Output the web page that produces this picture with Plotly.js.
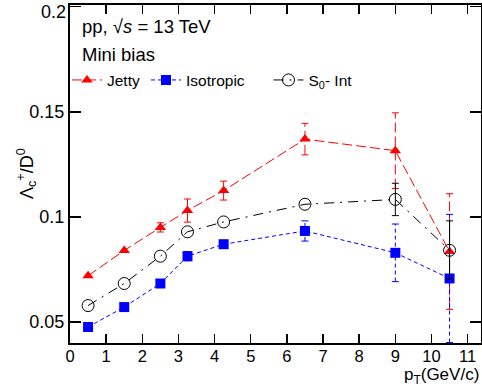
<!DOCTYPE html>
<html>
<head>
<meta charset="utf-8">
<script src="https://cdn.plot.ly/plotly-3.0.1.min.js"></script>
<style>html,body{margin:0;padding:0;background:#fff;}#chart{width:482px;height:392px;}</style>
</head>
<body>
<div id="chart"></div>
<script>
// ---- data ----
const pT = [0.5, 1.5, 2.5, 3.25, 4.25, 6.5, 9.0, 10.5];
const jettyY   = [0.072, 0.084, 0.095, 0.103, 0.1125, 0.137, 0.1315, 0.0835];
const jettyErr = [0, 0, 0.0022, 0.0055, 0.0045, 0.0075, 0.018, 0.0275];
const isoY     = [0.0476, 0.0571, 0.0683, 0.0813, 0.087, 0.0933, 0.0829, 0.0707];
const isoErr   = [0, 0, 0, 0.0022, 0.0016, 0.0048, 0.0137, 0.0305];
const s0Y      = [0.0578, 0.0683, 0.0813, 0.0929, 0.0976, 0.106, 0.1083, 0.0841];
const s0Err    = [0, 0, 0, 0, 0, 0, 0.0077, 0.014];
const xTicks = [0,1,2,3,4,5,6,7,8,9,10,11];
const yTicks = [0.05, 0.1, 0.15, 0.2];
const yTickText = ['0.05', '0.1', '0.15', ''];   // top label drawn as annotation so it is not clipped
const yTopLabel = '0.2';

const FONT = 'Liberation Sans, Arial, Helvetica, sans-serif';

function errTrace(x, y, e, color, dash) {
  const xs = [], ys = [];
  for (let i = 0; i < x.length; i++) {
    if (!(e[i] > 0)) continue;
    xs.push(x[i], x[i], null);
    ys.push(y[i] - e[i], y[i] + e[i], null);
  }
  return {
    x: xs, y: ys, mode: 'lines+markers', type: 'scatter', showlegend: false,
    hoverinfo: 'skip', cliponaxis: true,
    line: {color: color, width: 1, dash: dash},
    marker: {symbol: 'line-ew-open', size: 5, color: color, line: {color: color, width: 1}}
  };
}

const redDash = '10px,4px';
const blueDash = '4px,3px';
const blackDash = '10px,6px,2px,6px';

const traces = [
  errTrace(pT, jettyY, jettyErr, '#ff0000', redDash),
  {x: pT, y: jettyY, name: 'Jetty', type: 'scatter', mode: 'lines+markers', legend: 'legend',
   line: {color: '#ff0000', width: 1, dash: redDash},
   marker: {symbol: 'triangle-up', size: 10, color: '#ff0000'}},
  errTrace(pT, isoY, isoErr, '#0000ff', blueDash),
  {x: pT, y: isoY, name: 'Isotropic', type: 'scatter', mode: 'lines+markers', legend: 'legend2',
   line: {color: '#0000ff', width: 1, dash: blueDash},
   marker: {symbol: 'square', size: 10, color: '#0000ff'}},
  errTrace(pT, s0Y, s0Err, '#000000', 'solid'),
  {x: pT, y: s0Y, name: 'S<sub>0</sub>- Int', type: 'scatter', mode: 'lines+markers', legend: 'legend3',
   line: {color: '#000000', width: 1, dash: blackDash},
   marker: {symbol: 'circle-open', size: 12, color: '#000000', line: {color: '#000000', width: 1}}}
];

const legendBase = {orientation: 'h', yanchor: 'middle', xanchor: 'left', y: 0.777,
  bgcolor: 'rgba(0,0,0,0)', borderwidth: 0, font: {family: FONT, size: 15.5, color: '#000'}};

const layout = {
  width: 482, height: 392,
  margin: {l: 70, r: 1, t: 5, b: 49},
  paper_bgcolor: '#fff', plot_bgcolor: '#fff',
  font: {family: FONT, color: '#000'},
  showlegend: true,
  legend:  Object.assign({}, legendBase, {x: -0.0073}),
  legend2: Object.assign({}, legendBase, {x: 0.1849}),
  legend3: Object.assign({}, legendBase, {x: 0.483}),
  xaxis: {
    range: [0, 11.37], tickvals: xTicks, ticktext: xTicks.map(String),
    ticks: 'inside', ticklen: 9, tickwidth: 1.5, tickcolor: '#000',
    showline: true, linecolor: '#000', linewidth: 2, mirror: 'ticks',
    showgrid: false, zeroline: false, ticklabelstandoff: -3, ticklabeloverflow: 'allow',
    tickfont: {family: FONT, size: 16.5, color: '#000'}
  },
  yaxis: {
    range: [0.04, 0.2008], tickvals: yTicks, ticktext: yTickText,
    ticks: 'inside', ticklen: 11, tickwidth: 1.5, tickcolor: '#000',
    showline: true, linecolor: '#000', linewidth: 2, mirror: 'ticks',
    showgrid: false, zeroline: false, ticklabeloverflow: 'allow',
    tickfont: {family: FONT, size: 18, color: '#000'}
  },
  annotations: [
    {text: yTopLabel, xref: 'paper', yref: 'paper', x: -0.005, y: 1.0148,
     xanchor: 'right', yanchor: 'top', showarrow: false, font: {family: FONT, size: 18, color: '#000'}},
    {text: 'pp, √<i>s</i> = 13 TeV', xref: 'paper', yref: 'paper', x: 0.024, y: 0.937,
     xanchor: 'left', yanchor: 'middle', showarrow: false, font: {family: FONT, size: 18.5, color: '#000'}},
    {text: 'Mini bias', xref: 'paper', yref: 'paper', x: 0.024, y: 0.855,
     xanchor: 'left', yanchor: 'middle', showarrow: false, font: {family: FONT, size: 18.5, color: '#000'}},
    {text: 'Λ<sub>c</sub><sup>+</sup>/D<sup>0</sup>', xref: 'paper', yref: 'paper', x: -0.107, y: 0.5,
     xanchor: 'center', yanchor: 'middle', textangle: -90, showarrow: false,
     font: {family: FONT, size: 18, color: '#000'}},
    {text: 'p<sub>T</sub>(GeV/c)', xref: 'paper', yref: 'paper', x: 1.0, y: -0.097,
     xanchor: 'right', yanchor: 'middle', showarrow: false, font: {family: FONT, size: 17, color: '#000'}}
  ]
};

Plotly.newPlot('chart', traces, layout, {displayModeBar: false, staticPlot: true});
</script>
</body>
</html>
